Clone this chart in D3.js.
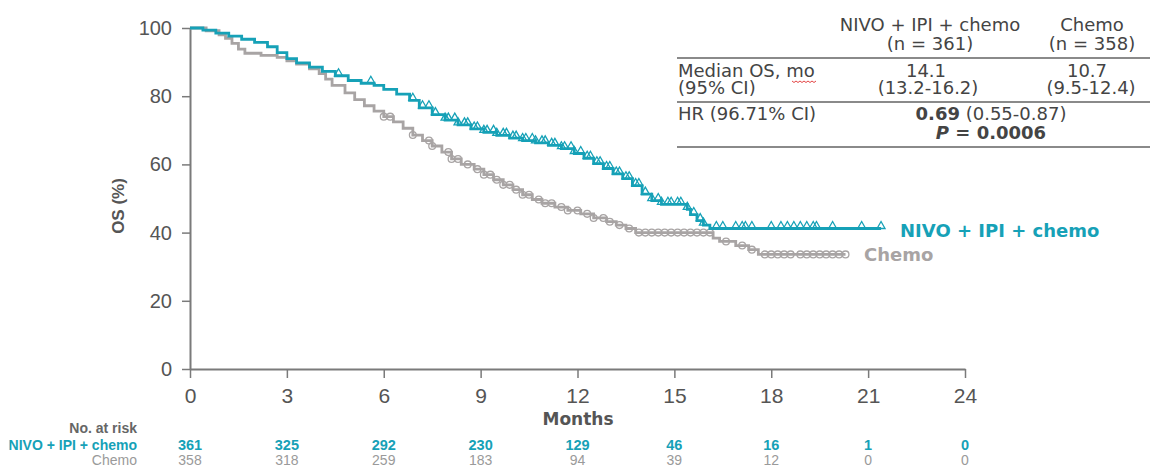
<!DOCTYPE html>
<html>
<head>
<meta charset="utf-8">
<script src="https://cdn.jsdelivr.net/npm/d3@7"></script>
<style>
  body { margin: 0; background: #fff; }
  svg text { font-family: "Liberation Sans", Arial, sans-serif; }
</style>
</head>
<body>
<div id="chart"></div>
<script>
const w = 1152, h = 468;

// KM step data (months, OS %)
const nivoTime = [0,0.4,0.8,1.2,1.6,2.0,2.4,2.7,3.0,3.3,3.7,4.1,4.5,4.9,5.3,5.7,6.0,6.4,6.8,7.1,7.5,7.9,8.3,8.7,9.1,9.5,9.9,10.3,10.7,11.1,11.5,11.9,12.2,12.5,12.8,13.1,13.4,13.7,14.0,14.3,14.6,15.4,15.5,15.7,15.9,16.1,21.4];
const nivoSurv = [100,99.4,98.5,97.6,96.7,95.8,94.5,92.8,91.0,89.8,88.5,87.3,86.0,84.6,83.8,83.2,82.0,80.6,78.8,76.6,74.6,73.0,71.6,70.4,69.4,68.5,67.7,67.0,66.3,65.6,64.6,63.2,61.8,60.2,58.8,57.2,55.8,53.8,51.3,49.4,48.3,46.8,45.3,43.5,42.2,41.2,41.2];
const chemoTime = [0,0.5,0.9,1.1,1.3,1.5,1.7,2.2,2.7,3.0,3.3,3.7,4.0,4.2,4.4,4.8,5.1,5.4,5.7,6.0,6.3,6.6,6.9,7.2,7.5,7.8,8.1,8.4,8.8,9.1,9.4,9.7,10.0,10.3,10.6,10.9,11.3,11.7,12.1,12.5,12.9,13.2,13.5,13.8,16.2,16.4,16.9,17.3,17.6,20.3];
const chemoSurv = [100,99.2,98.0,97.0,95.5,93.8,92.6,92.0,91.4,90.4,89.4,88.0,86.6,85.0,83.2,81.0,79.0,77.2,75.6,74.0,72.5,70.6,68.6,67.0,65.4,63.6,61.6,60.0,58.6,57.0,55.5,54.0,52.6,51.1,49.7,48.6,47.5,46.5,45.5,44.3,43.2,42.2,41.2,40.0,38.4,37.4,36.2,35.0,33.6,33.6];

// censored observations (months)
const nivoCensor = [4.6,5.6,6.9,7.2,7.4,7.6,7.9,8.0,8.2,8.3,8.5,8.6,8.8,8.9,9.1,9.2,9.4,9.5,9.7,9.8,10.0,10.1,10.3,10.4,10.6,10.7,10.9,11.0,11.2,11.3,11.5,11.6,11.8,11.9,12.1,12.3,12.4,12.6,12.7,12.9,13.0,13.2,13.3,13.5,13.6,13.8,13.9,14.1,14.3,14.5,14.6,14.8,14.9,15.1,15.2,15.4,15.6,15.8,15.9,16.3,16.5,16.9,17.1,17.2,17.4,18.0,18.3,18.5,18.7,18.9,19.1,19.3,19.4,19.9,20.8,21.4];
const chemoCensor = [6.0,6.2,6.9,7.4,7.5,8.0,8.1,8.3,8.6,8.9,9.1,9.3,9.5,9.7,9.9,10.1,10.3,10.5,10.8,11.0,11.2,11.5,11.7,12.0,12.3,12.5,12.8,13.0,13.3,13.6,13.9,14.1,14.3,14.5,14.7,14.9,15.1,15.3,15.5,15.7,15.9,16.1,16.6,17.1,17.4,17.8,18.0,18.2,18.4,18.6,18.9,19.1,19.3,19.5,19.7,19.9,20.1,20.3];

const xTicks = [0,3,6,9,12,15,18,21,24];
const yTicks = [0,20,40,60,80,100];
const riskNivo = [361,325,292,230,129,46,16,1,0];
const riskChemo = [358,318,259,183,94,39,12,0,0];

const teal = "#16a1b7", gray = "#a8a4a4", axisCol = "#7a7a7a", txt = "#555";
const dv = '"DejaVu Sans", Verdana, sans-serif';

const svg = d3.select("#chart").append("svg")
  .attr("width", w).attr("height", h)
  .attr("viewBox", "0 0 " + w + " " + h);

const x = d3.scaleLinear().domain([0, 24]).range([190, 965]);
const y = d3.scaleLinear().domain([0, 100]).range([369, 28]);

// axes
const gy = svg.append("g").attr("transform", "translate(190,0)")
  .call(d3.axisLeft(y).tickValues(yTicks).tickSize(8).tickSizeOuter(0).tickPadding(10));
const gx = svg.append("g").attr("transform", "translate(0,369)")
  .call(d3.axisBottom(x).tickValues(xTicks).tickSize(9).tickSizeOuter(0).tickPadding(10));
[gx, gy].forEach(g => {
  g.select(".domain").attr("stroke", axisCol).attr("stroke-width", 2);
  g.selectAll(".tick line").attr("stroke", axisCol).attr("stroke-width", 1.5);
  g.selectAll(".tick text").attr("fill", txt).style("font-size", "20px");
});
gx.selectAll(".tick text").style("font-size", "21px");

svg.append("text").attr("transform", "translate(124,206) rotate(-90)")
  .attr("text-anchor", "middle").attr("fill", txt)
  .style("font-size", "17px").style("font-weight", "bold").text("OS (%)");
svg.append("text").attr("x", 578).attr("y", 425).attr("text-anchor", "middle")
  .attr("fill", txt).style("font-family", dv)
  .style("font-size", "17px").style("font-weight", "bold").text("Months");

// curves
const line = d3.line().x(d => x(d[0])).y(d => y(d[1])).curve(d3.curveStepAfter);
const nivoPts = nivoTime.map((t, i) => [t, nivoSurv[i]]);
const chemoPts = chemoTime.map((t, i) => [t, chemoSurv[i]]);
const stepAt = (times, surv, t) => surv[Math.max(0, d3.bisectRight(times, t) - 1)];

svg.append("path").datum(chemoPts).attr("d", line)
  .attr("fill", "none").attr("stroke", gray).attr("stroke-width", 2.8);
svg.selectAll(null).data(chemoCensor).enter().append("circle")
  .attr("cx", d => x(d)).attr("cy", d => y(stepAt(chemoTime, chemoSurv, d)))
  .attr("r", 3.4).attr("fill", "none").attr("stroke", gray).attr("stroke-width", 1.3);

svg.append("path").datum(nivoPts).attr("d", line)
  .attr("fill", "none").attr("stroke", teal).attr("stroke-width", 2.8);
svg.selectAll(null).data(nivoCensor).enter().append("path")
  .attr("d", "M-4,0L0,-7L4,0Z")
  .attr("transform", d => "translate(" + x(d) + "," + y(stepAt(nivoTime, nivoSurv, d)) + ")")
  .attr("fill", "none").attr("stroke", teal).attr("stroke-width", 1.3);

svg.append("text").attr("x", 900).attr("y", 237).attr("fill", teal).style("font-family", dv)
  .style("font-size", "18px").style("font-weight", "bold").text("NIVO + IPI + chemo");
svg.append("text").attr("x", 864).attr("y", 261).attr("fill", gray).style("font-family", dv)
  .style("font-size", "18px").style("font-weight", "bold").text("Chemo");

// summary table
const tbl = svg.append("g");
const tx = (xx, yy, s, anchor) => tbl.append("text").attr("x", xx).attr("y", yy)
  .attr("fill", "#444").style("font-family", dv).style("font-size", "18px")
  .attr("text-anchor", anchor || "middle").text(s);
tx(930, 31, "NIVO + IPI + chemo"); tx(930, 50, "(n = 361)");
tx(1092, 31, "Chemo"); tx(1092, 50, "(n = 358)");
tx(678, 77, "Median OS, mo", "start"); tx(678, 94, "(95% CI)", "start");
tx(926, 77, "14.1"); tx(928, 94, "(13.2-16.2)");
tx(1087, 77, "10.7"); tx(1091, 94, "(9.5-12.4)");
tx(678, 120, "HR (96.71% CI)", "start");
const hr = tx(991, 120, "");
hr.append("tspan").style("font-weight", "bold").text("0.69");
hr.append("tspan").text(" (0.55-0.87)");
const pv = tx(991, 139, "").style("font-weight", "bold");
pv.append("tspan").style("font-style", "italic").text("P");
pv.append("tspan").text(" = 0.0006");
[58, 102, 147].forEach(yy => svg.append("line").attr("x1", 677).attr("x2", 1150)
  .attr("y1", yy).attr("y2", yy).attr("stroke", "#8a8a8a").attr("stroke-width", 2));
// spell-check squiggle under "mo"
svg.append("path")
  .attr("d", d3.range(0, 13).map((i) => (i ? "L" : "M") + (792 + i * 2) + "," + (81 + (i % 2 ? 1.5 : 0))).join(""))
  .attr("fill", "none").attr("stroke", "#e03030").attr("stroke-width", 0.9);

// number at risk
svg.append("text").attr("x", 137).attr("y", 433).attr("text-anchor", "end")
  .attr("fill", "#666").style("font-size", "14px").style("font-weight", "bold").text("No. at risk");
svg.append("text").attr("x", 137).attr("y", 450).attr("text-anchor", "end")
  .attr("fill", teal).style("font-size", "14px").style("font-weight", "bold").text("NIVO + IPI + chemo");
svg.append("text").attr("x", 137).attr("y", 465).attr("text-anchor", "end")
  .attr("fill", "#9a9a9a").style("font-size", "14px").text("Chemo");
svg.selectAll(null).data(riskNivo).enter().append("text")
  .attr("x", (d, i) => x(xTicks[i])).attr("y", 450).attr("text-anchor", "middle")
  .attr("fill", teal).style("font-size", "14.5px").style("font-weight", "bold").text(d => d);
svg.selectAll(null).data(riskChemo).enter().append("text")
  .attr("x", (d, i) => x(xTicks[i])).attr("y", 465).attr("text-anchor", "middle")
  .attr("fill", "#9a9a9a").style("font-size", "14px").text(d => d);
</script>
</body>
</html>
